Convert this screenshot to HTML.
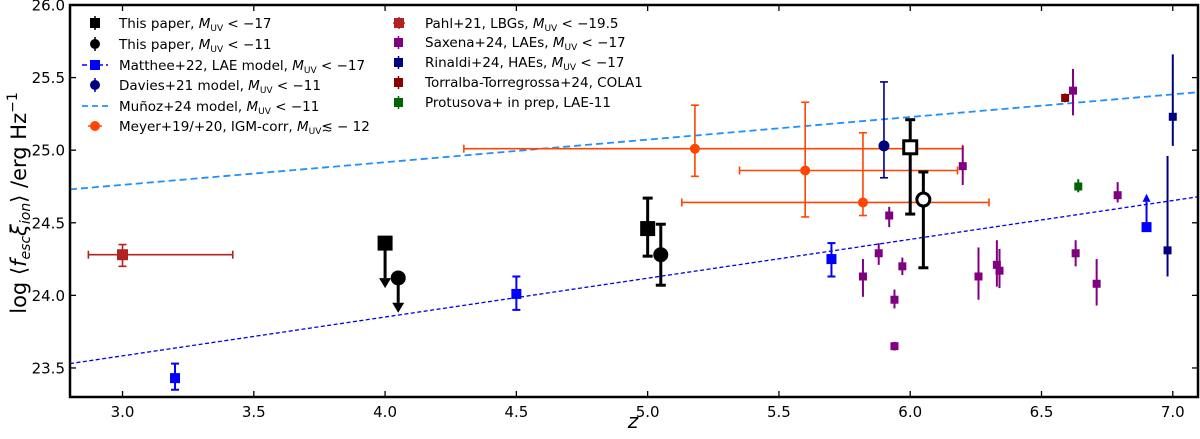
<!DOCTYPE html>
<html><head><meta charset="utf-8"><style>
html,body{margin:0;padding:0;background:#fff;}
svg{display:block;font-family:"DejaVu Sans","Liberation Sans",sans-serif;}
</style></head><body>
<svg id="chart" width="1200" height="439" viewBox="0 0 1200 439">
<g id="plot"></g>
</svg>
<script>
// ---- data ----
const pahlZ=[3.0], pahlV=[24.28], pahlXlo=[2.87], pahlXhi=[3.42], pahlLo=[24.20], pahlHi=[24.35];
const mattZ=[3.2,4.5,5.7], mattV=[23.43,24.01,24.25], mattLo=[23.35,23.90,24.13], mattHi=[23.53,24.13,24.36];
const mattLimZ=[6.9], mattLimV=[24.47], mattLimTo=[24.70];
const munozLineZ=[2.8,7.1], munozLineV=[24.73,25.40];
const mattLineZ=[2.8,7.1], mattLineV=[23.53,24.68];
const sqLimZ=[4.0], sqLimV=[24.36], sqLimTo=[24.05];
const ciLimZ=[4.05], ciLimV=[24.12], ciLimTo=[23.88];
const sqZ=[5.0], sqV=[24.46], sqLo=[24.27], sqHi=[24.67];
const ciZ=[5.05], ciV=[24.28], ciLo=[24.07], ciHi=[24.49];
const osqZ=[6.0], osqV=[25.02], osqLo=[24.56], osqHi=[25.21];
const ociZ=[6.05], ociV=[24.66], ociLo=[24.19], ociHi=[24.85];
const meyZ=[5.18,5.6,5.82], meyV=[25.01,24.86,24.64], meyXlo=[4.3,5.35,5.13], meyXhi=[6.2,6.18,6.3], meyLo=[24.82,24.54,24.55], meyHi=[25.31,25.33,25.12];
const davZ=[5.9], davV=[25.03], davLo=[24.81], davHi=[25.47];
const saxZ=[5.82,5.88,5.92,5.94,5.94,5.97,6.2,6.26,6.33,6.34,6.62,6.63,6.71,6.79];
const saxV=[24.13,24.29,24.55,23.97,23.65,24.20,24.89,24.13,24.21,24.17,25.41,24.29,24.08,24.69];
const saxLo=[23.99,24.21,24.47,23.91,23.62,24.14,24.76,23.97,24.06,24.05,25.24,24.20,23.93,24.64];
const saxHi=[24.25,24.36,24.61,24.04,23.68,24.26,25.03,24.33,24.38,24.32,25.56,24.38,24.25,24.78];
const rinZ=[6.98,7.0], rinV=[24.31,25.23], rinLo=[24.13,25.03], rinHi=[24.96,25.66];
const torZ=[6.59], torV=[25.36], torLo=[25.33], torHi=[25.39];
const proZ=[6.64], proV=[24.75], proLo=[24.71], proHi=[24.80];
const xTicks=[3.0,3.5,4.0,4.5,5.0,5.5,6.0,6.5,7.0];
const yTicks=[23.5,24.0,24.5,25.0,25.5,26.0];

// ---- axes ----
const L=70,R=1198,T=5,B=397, XMIN=2.8,XMAX=7.096, YMIN=23.3,YMAX=26.0;
const X=z=>L+(z-XMIN)/(XMAX-XMIN)*(R-L);
const Y=v=>B-(v-YMIN)/(YMAX-YMIN)*(B-T);
const NS='http://www.w3.org/2000/svg';
const plot=document.getElementById('plot');
const svg=document.getElementById('chart');
function mk(tag,attrs,parent){const e=document.createElementNS(NS,tag);for(const k in attrs)e.setAttribute(k,attrs[k]);(parent||plot).appendChild(e);return e;}

let ml=mk('line',{x1:X(munozLineZ[0]),y1:Y(munozLineV[0]),x2:X(munozLineZ[1]),y2:Y(munozLineV[1]),stroke:'#1e90ff','stroke-width':1.8,'stroke-dasharray':'7,4'});


let ml2=mk('line',{x1:X(mattLineZ[0]),y1:Y(mattLineV[0]),x2:X(mattLineZ[1]),y2:Y(mattLineV[1]),stroke:'#0000ee','stroke-width':1.3,'stroke-dasharray':'4,2.5'});



function vbar(x,lo,hi,col,w,cap){mk('line',{x1:x,y1:Y(lo),x2:x,y2:Y(hi),stroke:col,'stroke-width':w});
 if(cap){mk('line',{x1:x-cap,y1:Y(lo),x2:x+cap,y2:Y(lo),stroke:col,'stroke-width':w});mk('line',{x1:x-cap,y1:Y(hi),x2:x+cap,y2:Y(hi),stroke:col,'stroke-width':w});}}
function hbar(y,lo,hi,col,w,cap){mk('line',{x1:X(lo),y1:y,x2:X(hi),y2:y,stroke:col,'stroke-width':w});
 mk('line',{x1:X(lo),y1:y-cap,x2:X(lo),y2:y+cap,stroke:col,'stroke-width':w});mk('line',{x1:X(hi),y1:y-cap,x2:X(hi),y2:y+cap,stroke:col,'stroke-width':w});}
function sq(x,y,s,fill,stroke,sw,name){const e=mk('rect',{x:x-s/2,y:y-s/2,width:s,height:s,fill:fill,stroke:stroke||'none','stroke-width':sw||0});
 
 return e;}
function ci(x,y,r,fill,stroke,sw,name){const e=mk('circle',{cx:x,cy:y,r:r,fill:fill,stroke:stroke||'none','stroke-width':sw||0});
 
 return e;}
function arrow(x,y1,y2,col,w,hw,hl){mk('line',{x1:x,y1:y1,x2:x,y2:y2-(y2>y1?hl:-hl),stroke:col,'stroke-width':w});
 const d=y2>y1?-1:1;mk('polygon',{points:`${x-hw},${y2+d*hl} ${x+hw},${y2+d*hl} ${x},${y2}`,fill:col});}

pahlZ.forEach((z,i)=>{hbar(Y(pahlV[i]),pahlXlo[i],pahlXhi[i],'#b22222',1.6,4);vbar(X(z),pahlLo[i],pahlHi[i],'#b22222',1.6,4);sq(X(z),Y(pahlV[i]),11,'#b22222',null,0,'pahl-point');});
meyZ.forEach((z,i)=>{hbar(Y(meyV[i]),meyXlo[i],meyXhi[i],'#ff4500',1.6,4);vbar(X(z),meyLo[i],meyHi[i],'#ff4500',1.6,4);ci(X(z),Y(meyV[i]),5,'#ff4500',null,0,'meyer-point');});
mattZ.forEach((z,i)=>{vbar(X(z),mattLo[i],mattHi[i],'#0000ff',2,4);sq(X(z),Y(mattV[i]),10,'#0000ff',null,0,'matthee-point');});
mattLimZ.forEach((z,i)=>{arrow(X(z),Y(mattLimV[i]),Y(mattLimTo[i]),'#0000ff',2,4,8);sq(X(z),Y(mattLimV[i]),10,'#0000ff',null,0,'matthee-lower-limit');});
saxZ.forEach((z,i)=>{vbar(X(z),saxLo[i],saxHi[i],'#800080',2,0);sq(X(z),Y(saxV[i]),8,'#800080',null,0,'saxena-point');});
rinZ.forEach((z,i)=>{vbar(X(z),rinLo[i],rinHi[i],'#000080',2,0);sq(X(z),Y(rinV[i]),8,'#000080',null,0,'rinaldi-point');});
torZ.forEach((z,i)=>{vbar(X(z),torLo[i],torHi[i],'#8b0000',2,0);sq(X(z),Y(torV[i]),8,'#8b0000',null,0,'torralba-point');});
proZ.forEach((z,i)=>{vbar(X(z),proLo[i],proHi[i],'#006400',2,0);sq(X(z),Y(proV[i]),8,'#006400',null,0,'protusova-point');});
davZ.forEach((z,i)=>{vbar(X(z),davLo[i],davHi[i],'#000080',1.6,4);ci(X(z),Y(davV[i]),5.5,'#000080',null,0,'davies-point');});
sqLimZ.forEach((z,i)=>{arrow(X(z),Y(sqLimV[i]),Y(sqLimTo[i]),'#000',3,6,10);sq(X(z),Y(sqLimV[i]),15,'#000',null,0,'this-paper-square-limit');});
ciLimZ.forEach((z,i)=>{arrow(X(z),Y(ciLimV[i]),Y(ciLimTo[i]),'#000',3,6,10);ci(X(z),Y(ciLimV[i]),7.5,'#000',null,0,'this-paper-circle-limit');});
sqZ.forEach((z,i)=>{vbar(X(z),sqLo[i],sqHi[i],'#000',3,5);sq(X(z),Y(sqV[i]),15,'#000',null,0,'this-paper-square-z5');});
ciZ.forEach((z,i)=>{vbar(X(z),ciLo[i],ciHi[i],'#000',3,5);ci(X(z),Y(ciV[i]),7.5,'#000',null,0,'this-paper-circle-z5');});
osqZ.forEach((z,i)=>{vbar(X(z),osqLo[i],osqHi[i],'#000',3,5);sq(X(z),Y(osqV[i]),13,'#fff','#000',3,'this-paper-open-square');});
ociZ.forEach((z,i)=>{vbar(X(z),ociLo[i],ociHi[i],'#000',3,5);ci(X(z),Y(ociV[i]),6.5,'#fff','#000',3,'this-paper-open-circle');});

mk('rect',{x:L,y:T,width:R-L,height:B-T,fill:'none',stroke:'#000','stroke-width':2.5},svg);
xTicks.forEach(t=>{const x=X(t);mk('line',{x1:x,y1:B,x2:x,y2:B-6,stroke:'#000','stroke-width':1.3},svg);mk('line',{x1:x,y1:T,x2:x,y2:T+6,stroke:'#000','stroke-width':1.3},svg);
 const tx=mk('text',{x:x,y:B+20,'text-anchor':'middle','font-size':15},svg);tx.textContent=t.toFixed(1);
 
 });
yTicks.forEach(t=>{const y=Y(t);mk('line',{x1:L,y1:y,x2:L+6,y2:y,stroke:'#000','stroke-width':1.3},svg);mk('line',{x1:R,y1:y,x2:R-6,y2:y,stroke:'#000','stroke-width':1.3},svg);
 const tx=mk('text',{x:L-5,y:y+5.5,'text-anchor':'end','font-size':15},svg);tx.textContent=t.toFixed(1);
 
 });
</script>
<svg width="1200" height="439" style="position:absolute;left:0;top:0;font-family:'DejaVu Sans','Liberation Sans',sans-serif">
<text x="633" y="428" font-size="20" font-style="italic" text-anchor="middle">z</text>
<text transform="translate(26,203) rotate(-90)" font-size="21" text-anchor="middle">log ⟨<tspan font-style="italic">f<tspan font-size="14" dy="4">esc</tspan><tspan dy="-4">ξ</tspan><tspan font-size="14" dy="4">ion</tspan></tspan><tspan dy="-4">⟩ /erg Hz</tspan><tspan font-size="14" dy="-9">−1</tspan></text>
<g font-size="13.5">
 <g><line x1="95" y1="16" x2="95" y2="30" stroke="#000" stroke-width="1.5"/><rect x="90" y="18" width="10" height="10"/><text x="119" y="28">This paper, <tspan font-style="italic">M</tspan><tspan font-size="9" dy="3">UV</tspan><tspan dy="-3"> &lt; −17</tspan></text></g>
 <g><line x1="95" y1="37" x2="95" y2="51" stroke="#000" stroke-width="1.5"/><circle cx="95" cy="44" r="5"/><text x="119" y="49">This paper, <tspan font-style="italic">M</tspan><tspan font-size="9" dy="3">UV</tspan><tspan dy="-3"> &lt; −11</tspan></text></g>
 <g><line x1="82" y1="65" x2="108" y2="65" stroke="#00f" stroke-width="1.5" stroke-dasharray="5,3"/><rect x="90" y="60" width="10" height="10" fill="#00f"/><text x="119" y="70">Matthee+22, LAE model, <tspan font-style="italic">M</tspan><tspan font-size="9" dy="3">UV</tspan><tspan dy="-3"> &lt; −17</tspan></text></g>
 <g><line x1="95" y1="78" x2="95" y2="92" stroke="#000080" stroke-width="1.5"/><circle cx="95" cy="85" r="5" fill="#000080"/><text x="119" y="90">Davies+21 model, <tspan font-style="italic">M</tspan><tspan font-size="9" dy="3">UV</tspan><tspan dy="-3"> &lt; −11</tspan></text></g>
 <g><line x1="82" y1="106" x2="108" y2="106" stroke="#1e90ff" stroke-width="1.8" stroke-dasharray="6,4"/><text x="119" y="111">Muñoz+24 model, <tspan font-style="italic">M</tspan><tspan font-size="9" dy="3">UV</tspan><tspan dy="-3"> &lt; −11</tspan></text></g>
 <g><line x1="88" y1="126" x2="102" y2="126" stroke="#ff4500" stroke-width="1.5"/><circle cx="95" cy="126" r="5" fill="#ff4500"/><text x="119" y="131">Meyer+19/+20, IGM-corr, <tspan font-style="italic">M</tspan><tspan font-size="9" dy="3">UV</tspan><tspan dy="-3">≲ − 12</tspan></text></g>
 <g><line x1="393" y1="23" x2="405" y2="23" stroke="#b22222" stroke-width="1.5"/><line x1="399" y1="17" x2="399" y2="29" stroke="#b22222" stroke-width="1.5"/><rect x="394" y="18" width="10" height="10" fill="#b22222"/><text x="425" y="28">Pahl+21, LBGs, <tspan font-style="italic">M</tspan><tspan font-size="9" dy="3">UV</tspan><tspan dy="-3"> &lt; −19.5</tspan></text></g>
 <g><line x1="398.5" y1="36" x2="398.5" y2="49" stroke="#800080" stroke-width="1.5"/><rect x="394" y="38" width="9" height="9" fill="#800080"/><text x="425" y="47">Saxena+24, LAEs, <tspan font-style="italic">M</tspan><tspan font-size="9" dy="3">UV</tspan><tspan dy="-3"> &lt; −17</tspan></text></g>
 <g><line x1="398.5" y1="56" x2="398.5" y2="69" stroke="#000080" stroke-width="1.5"/><rect x="394" y="58" width="9" height="9" fill="#000080"/><text x="425" y="67">Rinaldi+24, HAEs, <tspan font-style="italic">M</tspan><tspan font-size="9" dy="3">UV</tspan><tspan dy="-3"> &lt; −17</tspan></text></g>
 <g><line x1="398.5" y1="76" x2="398.5" y2="89" stroke="#8b0000" stroke-width="1.5"/><rect x="394" y="78" width="9" height="9" fill="#8b0000"/><text x="425" y="87">Torralba-Torregrossa+24, COLA1</text></g>
 <g><line x1="398.5" y1="96" x2="398.5" y2="109" stroke="#006400" stroke-width="1.5"/><rect x="394" y="98" width="9" height="9" fill="#006400"/><text x="425" y="107">Protusova+ in prep, LAE-11</text></g>
</g>
</svg>
</body></html>
